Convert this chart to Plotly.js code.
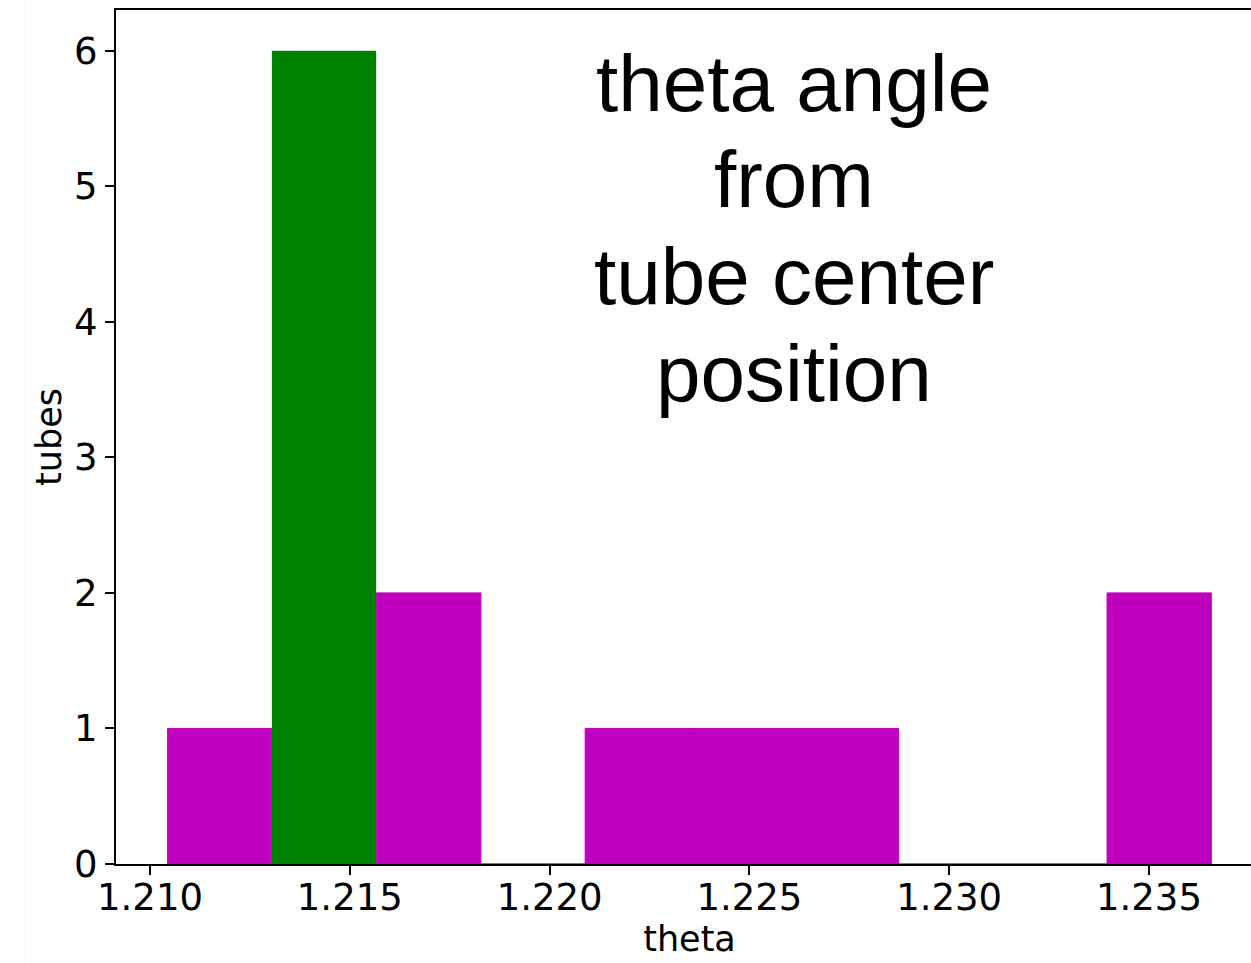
<!DOCTYPE html>
<html>
<head>
<meta charset="utf-8">
<script src="https://cdn.plot.ly/plotly-3.0.1.min.js"></script>
<style>
  html, body { margin: 0; padding: 0; background: #ffffff; overflow: hidden; }
  #chart { width: 1263px; height: 963px; }
</style>
</head>
<body>
<div id="chart"></div>
<script>
// Histogram bin edges (theta, radians)
const binEdges = [1.21044, 1.21305, 1.21566, 1.21828, 1.22089, 1.22350,
                  1.22611, 1.22873, 1.23134, 1.23395, 1.23656];
// Tube counts per bin
const allCounts = [1, 0, 2, 0, 1, 1, 1, 0, 0, 2];
const selectedCounts = [0, 6, 0, 0, 0, 0, 0, 0, 0, 0];
// Axis ticks
const xTicks = [1.210, 1.215, 1.220, 1.225, 1.230, 1.235];
const xTickLabels = ["1.210", "1.215", "1.220", "1.225", "1.230", "1.235"];
const yTicks = [0, 1, 2, 3, 4, 5, 6];
// Overlay text lines
const noteLines = ["theta angle", "from", "tube center", "position"];

const centers = binEdges.slice(0, -1).map((e, i) => (e + binEdges[i + 1]) / 2);
const widths = binEdges.slice(0, -1).map((e, i) => binEdges[i + 1] - e);

const magenta = {
  type: "bar",
  x: centers,
  y: allCounts,
  width: widths,
  marker: { color: "#bf00bf", line: { width: 1, color: "#bf00bf" } },
  hoverinfo: "x+y"
};
const green = {
  type: "bar",
  x: centers,
  y: selectedCounts,
  width: widths,
  marker: { color: "#008000", line: { width: 0 } },
  hoverinfo: "x+y"
};

const tickFont = { family: "DejaVu Sans", size: 37, color: "#000000" };
// x positions are fractions of the full axis width (116 -> 1263 px)
const noteX = 0.5915;
const noteY = [0.9140, 0.8017, 0.6882, 0.5747];

const annotations = noteLines.map((t, i) => ({
  text: t,
  xref: "paper", yref: "paper",
  x: noteX, y: noteY[i],
  xanchor: "center", yanchor: "middle",
  showarrow: false,
  font: { family: "Liberation Sans, Arial, sans-serif", size: 80, color: "#000000" }
}));

const layout = {
  width: 1263,
  height: 963,
  margin: { l: 116, r: 0, t: 10, b: 99, pad: 0 },
  paper_bgcolor: "#ffffff",
  plot_bgcolor: "#ffffff",
  barmode: "overlay",
  showlegend: false,
  xaxis: {
    range: [1.209149, 1.237853],
    tickvals: xTicks,
    ticktext: xTickLabels,
    ticks: "outside",
    ticklen: 9,
    tickwidth: 2,
    tickcolor: "#000000",
    showline: true,
    linewidth: 2,
    linecolor: "#000000",
    mirror: true,
    showgrid: false,
    zeroline: false,
    tickfont: tickFont,
    ticklabelstandoff: -9,
    automargin: false,
    title: { text: "theta", font: { family: "DejaVu Sans", size: 35, color: "#000000" }, standoff: 7 }
  },
  yaxis: {
    range: [0, 6.3],
    tickvals: yTicks,
    ticks: "outside",
    ticklen: 9,
    tickwidth: 2,
    tickcolor: "#000000",
    showline: true,
    linewidth: 2,
    linecolor: "#000000",
    showgrid: false,
    zeroline: false,
    tickfont: tickFont,
    automargin: false,
    ticklabelstandoff: 0,
    title: { text: "tubes", font: { family: "DejaVu Sans", size: 35, color: "#000000" }, standoff: 2 }
  },
  annotations: annotations,
  shapes: [{
    type: "line", xref: "paper", yref: "paper",
    x0: -0.0793, x1: -0.0793, y0: -0.116, y1: 1.012,
    line: { color: "#f2f2f2", width: 1 }
  }]
};

Plotly.newPlot("chart", [magenta, green], layout, { displayModeBar: false, staticPlot: true });
</script>
</body>
</html>
